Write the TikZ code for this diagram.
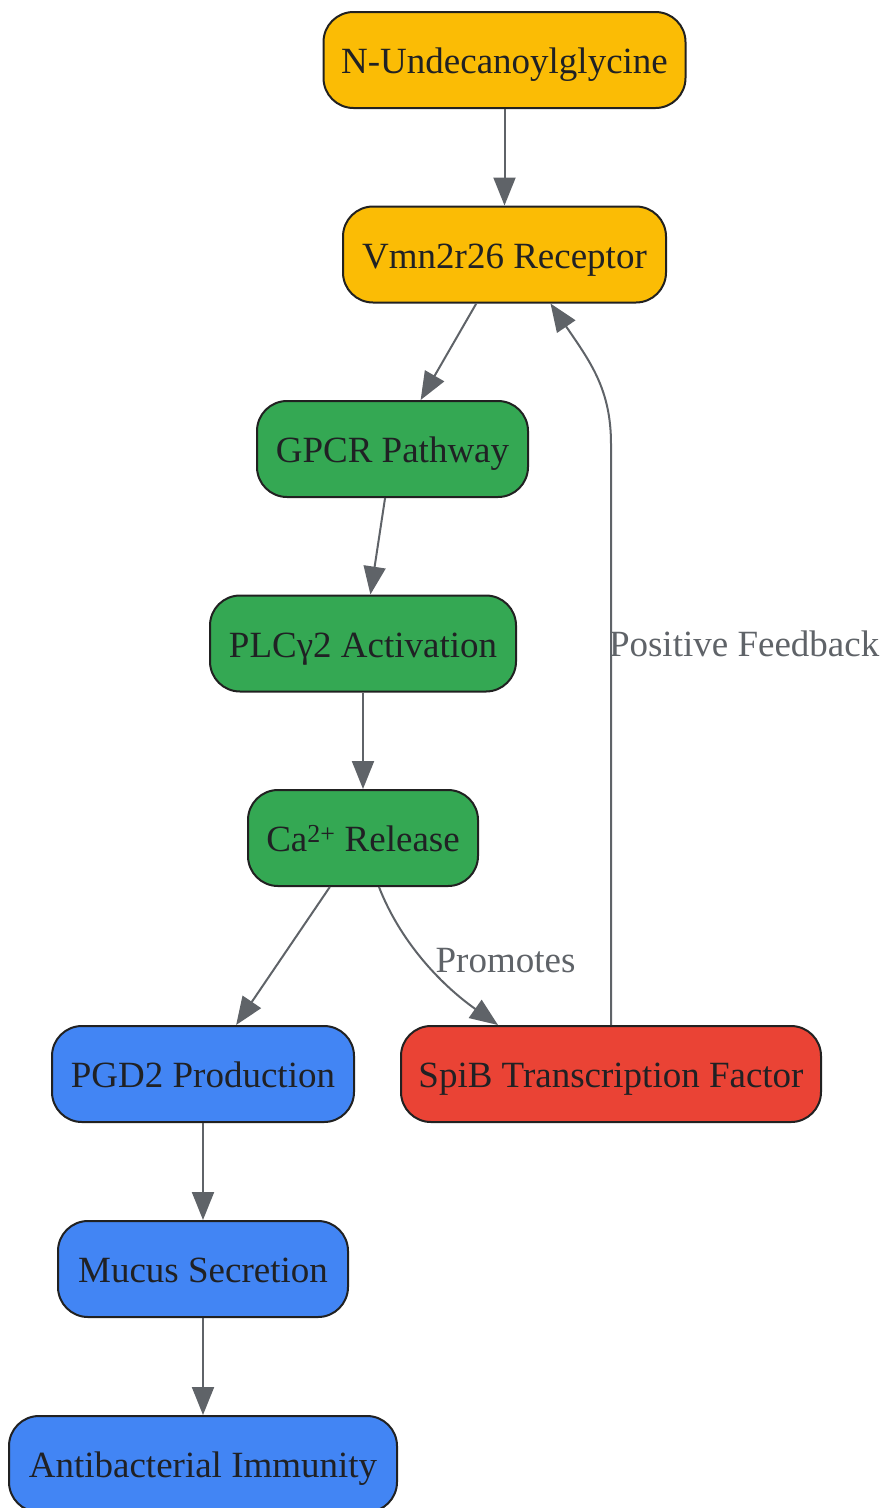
\documentclass[tikz,border=0pt]{standalone}
\usepackage{fontspec}
\setmainfont{Liberation Serif}
\usetikzlibrary{arrows.meta, calc}
\definecolor{ngold}{HTML}{FBBC05}
\definecolor{ngreen}{HTML}{34A853}
\definecolor{nblue}{HTML}{4285F4}
\definecolor{nred}{HTML}{EA4335}
\definecolor{boxline}{HTML}{212121}
\definecolor{boxtext}{HTML}{202124}
\definecolor{edgegray}{HTML}{5F6368}
\begin{document}
\begin{tikzpicture}[x = 1pt, y = -1pt,
    box/.style = {draw = boxline, line width = 2pt, rounded corners = 30pt, minimum height = 96pt, inner sep = 0pt,
      text height = 34pt, text depth = 7pt, text = boxtext, font = \fontsize{37}{44}\selectfont},
    edge/.style = {draw = edgegray, line width = 2pt, -{Triangle[length = 28pt, width = 22pt]}},
    tag/.style = {text = edgegray, inner sep = 0pt, font = \fontsize{37}{44}\selectfont}]
  \useasboundingbox (0, 0) rectangle (884, 1508);
  \node [box, fill = ngold, minimum width = 362pt] (nug) at (504.5, 60) {N-Undecanoylglycine};
  \node [box, fill = ngold, minimum width = 323pt] (vmn) at (504.5, 254.5) {Vmn2r26 Receptor};
  \node [box, fill = ngreen, minimum width = 271pt] (gpcr) at (392.5, 449) {GPCR Pathway};
  \node [box, fill = ngreen, minimum width = 306pt] (plc) at (363, 643.5) {PLCγ2 Activation};
  \node [box, fill = ngreen, minimum width = 230pt] (ca) at (363, 838) {Ca\textsuperscript{2+} Release};
  \node [box, fill = nblue, minimum width = 302pt] (pgd) at (203, 1074) {PGD2 Production};
  \node [box, fill = nred, minimum width = 420pt] (spib) at (611, 1074) {SpiB Transcription Factor};
  \node [box, fill = nblue, minimum width = 290pt] (mucus) at (203, 1269) {Mucus Secretion};
  \node [box, fill = nblue, minimum width = 388pt] (immune) at (203, 1464) {Antibacterial Immunity};
  \draw [edge] (nug) -- (vmn);
  \draw [edge] (vmn) -- (gpcr);
  \draw [edge] (gpcr) -- (plc);
  \draw [edge] (plc) -- (ca);
  \draw [edge] (ca) -- (pgd);
  \draw [edge] (pgd) -- (mucus);
  \draw [edge] (mucus) -- (immune);
  \draw [edge] ($(ca.south) + (16, 0)$) .. controls ($(ca.south) + (37, 54)$) and ($(spib.north) + (-171, -41)$) .. ($(spib.north) + (-113, 0)$)
    node [tag, pos = 0.5, anchor = west, xshift = 10pt] {Promotes};
  \draw [edge] (spib.north) -- ($(spib.north) + (0, -581)$) node [tag, pos = 0.656, anchor = west, xshift = -3pt] {Positive Feedback}
    .. controls ($(spib.north) + (0, -636)$) and ($(vmn.south) + (85.5, 58)$) .. ($(vmn.south) + (46, 0)$);
\end{tikzpicture}
\end{document}
